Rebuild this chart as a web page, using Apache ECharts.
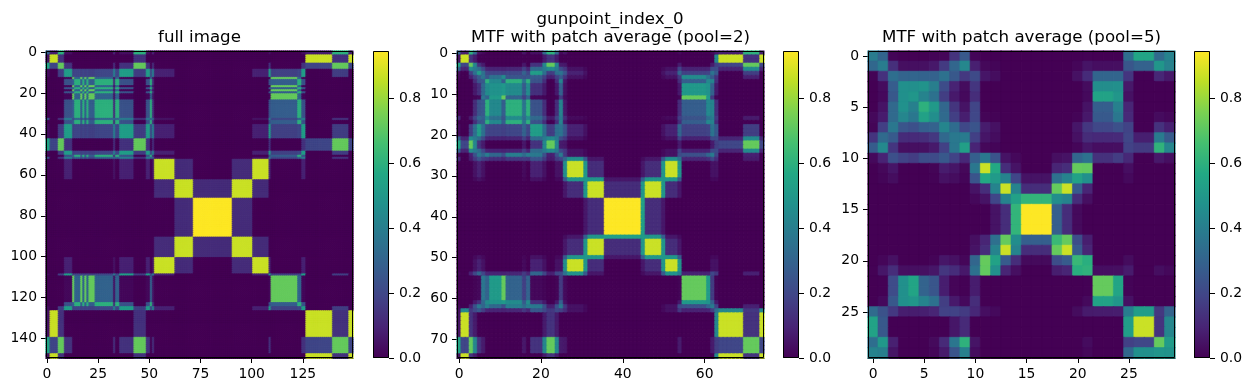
<!DOCTYPE html>
<html><head><meta charset="utf-8">
<style>html,body{margin:0;padding:0;background:#fff}#c{width:1250px;height:391px}</style>
<script src="https://cdn.jsdelivr.net/npm/echarts@6/dist/echarts.min.js"></script>
</head><body><div id="c"></div>
<script>
// run-length list of the symbol held by each of the 150 time steps
const stateRuns = [['C',2],['A',4],['B',3],['D',4],['F',1],['E',3],['F',1],['E',1],['F',1],['E',1],['F',3],['E',9],['J',1],['E',2],['D',7],['B',6],['D',2],['E',1],['J',1],['G',10],['H',9],['I',19],['H',10],['G',8],['D',1],['F',13],['E',2],['D',2],['A',13],['B',8],['A',2]];
const stateNames = ['A','C','B','D','E','F','J','G','H','I'];
// transition values: row symbol -> column symbol
const rowA = [.87,.05,.14,0,0,0,0,0,0,0];
const rowC = [.08,.3,.6,.04,0,0,.1,0,0,0];
const rowB = [.2,.55,.72,.14,0,0,.12,0,0,0];
const rowD = [0,.03,.17,.52,.2,.18,.4,.09,0,0];
const rowE = [0,0,0,.24,.6,.28,.12,0,0,0];
const rowF = [0,0,0,.02,.3,.72,.05,0,0,0];
const rowJ = [0,.25,.14,.4,.3,.2,.3,.05,0,0];
const rowG = [0,0,0,.09,0,0,.05,.87,.12,0];
const rowH = [0,0,0,0,0,0,0,.12,.87,.12];
const rowI = [0,0,0,0,0,0,0,0,.12,.945];
const transition = [rowA,rowC,rowB,rowD,rowE,rowF,rowJ,rowG,rowH,rowI];
const colorbarMax = 0.945;
const colorbarTicks = [0,0.2,0.4,0.6,0.8];
const panelTitles = ['full image','MTF with patch average (pool=2)','MTF with patch average (pool=5)'];
const suptitle = 'gunpoint_index_0';
const pools = [1,2,5];
const xTickSteps = [25,20,5];
const yTickSteps = [20,10,5];
const viridis = ['#440154','#482475','#414487','#355f8d','#2a788e','#21918c','#22a884','#44bf70','#7ad151','#bddf26','#fde725'];

const rgb = viridis.map(h=>[1,3,5].map(i=>parseInt(h.slice(i,i+2),16)));
function colorOf(v){
  const t=Math.min(1,v/colorbarMax)*(rgb.length-1), i=Math.min(rgb.length-2,Math.floor(t)), f=t-i;
  return 'rgb('+rgb[i].map((c,j)=>Math.round(c+(rgb[i+1][j]-c)*f)).join(',')+')';
}
const seq = stateRuns.flatMap(([s,n]) => Array(n).fill(stateNames.indexOf(s)));
function patchAverage(pool){
  const n = Math.floor(seq.length/pool), out = [];
  for(let r=0;r<n;r++)for(let c=0;c<n;c++){
    let t=0;
    for(let a=0;a<pool;a++)for(let b=0;b<pool;b++)t+=transition[seq[r*pool+a]][seq[c*pool+b]];
    const v=+(t/(pool*pool)).toFixed(3), col=colorOf(v);
    out.push({value:[c,r,v],itemStyle:{color:col,borderColor:col,borderWidth:.6}});
  }
  return {n,out};
}
const font = 'DejaVu Sans';
const imgLeft=[46,457,868], cbLeft=[373,783,1194], gridTop=51, size=307, cbW=16;
const grids=[],xAxes=[],yAxes=[],series=[],titles=[],frames=[];
pools.forEach((p,k)=>{
  const {n,out}=patchAverage(p);
  const cats=Array.from({length:n},(_,i)=>String(i));
  const gi=grids.length;
  grids.push({left:imgLeft[k],top:gridTop,width:size,height:size});
  const mk=(step)=>({show:true,length:5,alignWithLabel:true,interval:(i)=>i%step===0,lineStyle:{color:'#000',width:1}});
  const lb=(step,m)=>({show:true,interval:(i)=>i%step===0,margin:m,fontFamily:font,fontSize:13.9,color:'#000'});
  xAxes.push({type:'category',gridIndex:gi,data:cats,position:'bottom',axisLine:{show:true,onZero:false,lineStyle:{color:'#000'}},axisTick:mk(xTickSteps[k]),axisLabel:lb(xTickSteps[k],9),splitLine:{show:false},splitArea:{show:false}});
  yAxes.push({type:'category',gridIndex:gi,data:cats,inverse:true,axisLine:{show:true,onZero:false,lineStyle:{color:'#000'}},axisTick:mk(yTickSteps[k]),axisLabel:lb(yTickSteps[k],9),splitLine:{show:false},splitArea:{show:false}});
  series.push({type:'heatmap',xAxisIndex:gi,yAxisIndex:gi,data:out,progressive:0,silent:true,emphasis:{disabled:true}});
  frames.push({type:'rect',shape:{x:imgLeft[k]+.5,y:gridTop+.5,width:size-1,height:size-1},style:{fill:'none',stroke:'#000',lineWidth:1},z:100,silent:true});
  titles.push({text:panelTitles[k],left:imgLeft[k]+size/2,top:29,padding:0,textAlign:'center',textStyle:{fontFamily:font,fontSize:16.67,fontWeight:'normal',color:'#000'}});
});
pools.forEach((p,k)=>{
  const gi=grids.length;
  grids.push({left:cbLeft[k],top:gridTop,width:cbW,height:size});
  xAxes.push({type:'category',gridIndex:gi,data:['c'],show:false});
  yAxes.push({type:'value',gridIndex:gi,position:'right',min:0,max:colorbarMax,splitLine:{show:false},axisLine:{show:false},
    axisTick:{show:true,length:5,customValues:colorbarTicks,lineStyle:{color:'#000'}},
    axisLabel:{show:true,customValues:colorbarTicks,margin:10,fontFamily:font,fontSize:13.9,color:'#000',formatter:v=>v.toFixed(1)}});
  series.push({type:'bar',xAxisIndex:gi,yAxisIndex:gi,data:[colorbarMax],barWidth:'100%',silent:true,itemStyle:{color:{type:'linear',x:0,y:1,x2:0,y2:0,colorStops:viridis.map((c,i)=>({offset:i/(viridis.length-1),color:c}))}}});
  frames.push({type:'rect',shape:{x:cbLeft[k]+.5,y:gridTop+.5,width:cbW-1,height:size-1},style:{fill:'none',stroke:'#000',lineWidth:1},z:100,silent:true});
});
titles.push({text:suptitle,left:610,top:11,padding:0,textAlign:'center',textStyle:{fontFamily:font,fontSize:16.67,fontWeight:'normal',color:'#000'}});
const chart=echarts.init(document.getElementById('c'),null,{renderer:'canvas'});
chart.setOption({animation:false,backgroundColor:'#fff',title:titles,grid:grids,xAxis:xAxes,yAxis:yAxes,series,
  visualMap:{show:false,type:'continuous',min:0,max:colorbarMax,seriesIndex:[0,1,2],dimension:2,inRange:{color:viridis}},
  graphic:frames});
</script></body></html>
